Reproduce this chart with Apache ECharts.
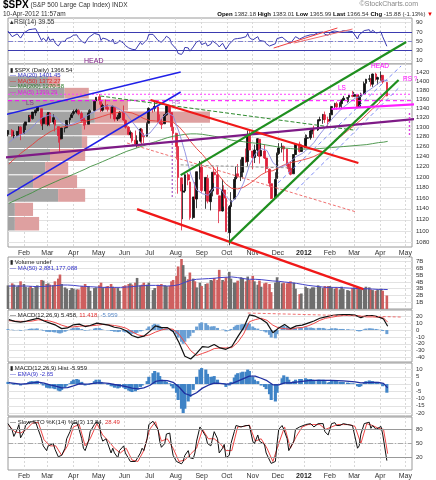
<!DOCTYPE html>
<html>
<head>
<meta charset="UTF-8">
<title>$SPX Daily</title>
<script src="https://cdn.jsdelivr.net/npm/echarts@6/dist/echarts.min.js"></script>
<style>html,body{margin:0;padding:0;background:#fff}#main{width:436px;height:480px}</style>
</head>
<body>
<div id="main"></div>
<script>
// ---- values (2-day candles, weekly indicator points) ----
var candleDates = [
 '2011-01-13','2011-01-18','2011-01-20','2011-01-24','2011-01-26','2011-01-28',
 '2011-02-01','2011-02-03','2011-02-07','2011-02-09','2011-02-11','2011-02-15','2011-02-17','2011-02-22','2011-02-24','2011-02-28',
 '2011-03-02','2011-03-04','2011-03-08','2011-03-10','2011-03-14','2011-03-16','2011-03-18','2011-03-22','2011-03-24','2011-03-28','2011-03-30',
 '2011-04-01','2011-04-05','2011-04-07','2011-04-11','2011-04-13','2011-04-15','2011-04-19','2011-04-21','2011-04-26','2011-04-28',
 '2011-05-02','2011-05-04','2011-05-06','2011-05-10','2011-05-12','2011-05-16','2011-05-18','2011-05-20','2011-05-24','2011-05-26','2011-05-31',
 '2011-06-02','2011-06-06','2011-06-08','2011-06-10','2011-06-14','2011-06-16','2011-06-20','2011-06-22','2011-06-24','2011-06-28','2011-06-30',
 '2011-07-05','2011-07-07','2011-07-11','2011-07-13','2011-07-15','2011-07-19','2011-07-21','2011-07-25','2011-07-27','2011-07-29',
 '2011-08-02','2011-08-04','2011-08-08','2011-08-10','2011-08-12','2011-08-16','2011-08-18','2011-08-22','2011-08-24','2011-08-26','2011-08-30',
 '2011-09-01','2011-09-06','2011-09-08','2011-09-12','2011-09-14','2011-09-16','2011-09-20','2011-09-22','2011-09-26','2011-09-28','2011-09-30',
 '2011-10-04','2011-10-06','2011-10-10','2011-10-12','2011-10-14','2011-10-18','2011-10-20','2011-10-24','2011-10-26','2011-10-28',
 '2011-11-01','2011-11-03','2011-11-07','2011-11-09','2011-11-11','2011-11-15','2011-11-17','2011-11-21','2011-11-23','2011-11-28','2011-11-30',
 '2011-12-02','2011-12-06','2011-12-08','2011-12-12','2011-12-14','2011-12-16','2011-12-20','2011-12-22','2011-12-27','2011-12-29',
 '2012-01-03','2012-01-05','2012-01-09','2012-01-11','2012-01-13','2012-01-18','2012-01-20','2012-01-24','2012-01-26','2012-01-30',
 '2012-02-01','2012-02-03','2012-02-07','2012-02-09','2012-02-13','2012-02-15','2012-02-17','2012-02-22','2012-02-24','2012-02-28',
 '2012-03-01','2012-03-05','2012-03-07','2012-03-09','2012-03-13','2012-03-15','2012-03-19','2012-03-21','2012-03-23','2012-03-27','2012-03-29',
 '2012-04-02','2012-04-04','2012-04-09'
];
// [open, close, low, high]
var candles = [
 [1285,1293,1281,1294],[1293,1282,1280,1296],[1282,1283,1276,1291],[1283,1291,1281,1292],[1291,1300,1289,1302],[1300,1286,1273,1302],
 [1287,1304,1287,1308],[1304,1311,1294,1311],[1311,1325,1311,1325],[1324,1322,1312,1326],[1318,1332,1316,1332],[1330,1336,1324,1337],[1334,1343,1334,1344],[1339,1307,1302,1339],[1307,1320,1294,1320],[1321,1306,1306,1329],
 [1305,1331,1302,1332],[1330,1310,1302,1331],[1311,1320,1306,1327],[1315,1304,1291,1315],[1301,1282,1268,1301],[1280,1274,1249,1282],[1276,1298,1275,1299],[1298,1298,1289,1299],[1299,1314,1298,1315],[1315,1319,1306,1320],[1320,1326,1320,1330],
 [1329,1333,1325,1337],[1332,1336,1329,1339],[1335,1328,1325,1338],[1329,1314,1311,1333],[1315,1314,1303,1321],[1315,1305,1295,1320],[1306,1330,1306,1336],[1331,1335,1328,1338],[1335,1356,1333,1358],[1356,1364,1352,1364],
 [1365,1357,1348,1371],[1355,1335,1332,1355],[1336,1346,1333,1350],[1347,1342,1338,1359],[1342,1338,1333,1349],[1337,1329,1318,1343],[1329,1344,1327,1346],[1342,1317,1312,1342],[1317,1321,1313,1326],[1320,1331,1317,1334],[1332,1315,1313,1346],
 [1314,1300,1297,1316],[1300,1285,1283,1302],[1284,1289,1277,1293],[1288,1272,1268,1289],[1273,1265,1263,1293],[1265,1272,1258,1283],[1271,1296,1268,1298],[1295,1284,1263,1298],[1283,1280,1267,1288],[1281,1307,1280,1310],[1308,1340,1308,1342],
 [1339,1339,1331,1341],[1340,1344,1333,1357],[1343,1314,1310,1343],[1314,1309,1306,1327],[1309,1305,1296,1317],[1307,1326,1307,1328],[1326,1345,1324,1347],[1344,1332,1329,1345],[1331,1301,1292,1331],[1300,1287,1274,1307],
 [1287,1260,1234,1288],[1260,1199,1168,1261],[1198,1173,1101,1199],[1171,1173,1121,1186],[1173,1204,1170,1205],[1204,1194,1184,1208],[1190,1124,1120,1191],[1124,1162,1121,1162],[1162,1159,1156,1190],[1158,1210,1141,1210],[1209,1219,1195,1231],
 [1219,1174,1170,1230],[1173,1199,1140,1199],[1197,1154,1150,1204],[1153,1173,1137,1176],[1173,1209,1163,1209],[1209,1204,1188,1220],[1204,1167,1166,1220],[1164,1136,1114,1164],[1136,1175,1135,1195],[1175,1160,1144,1184],[1159,1099,1098,1160],
 [1097,1144,1075,1147],[1144,1155,1139,1171],[1158,1195,1158,1200],[1196,1204,1190,1220],[1206,1201,1198,1225],[1200,1210,1192,1234],[1209,1238,1197,1239],[1239,1229,1228,1256],[1230,1285,1221,1293],[1284,1253,1253,1292],
 [1251,1238,1215,1251],[1238,1253,1227,1264],[1253,1276,1241,1277],[1275,1240,1226,1275],[1241,1252,1241,1267],[1251,1237,1235,1264],[1237,1216,1209,1238],[1215,1188,1181,1216],[1187,1159,1158,1187],[1160,1195,1160,1209],[1197,1245,1197,1248],
 [1246,1257,1243,1267],[1257,1261,1248,1267],[1260,1255,1231,1262],[1255,1226,1221,1255],[1225,1216,1209,1225],[1217,1205,1203,1231],[1206,1244,1206,1244],[1244,1265,1243,1266],[1265,1250,1248,1270],[1250,1258,1249,1264],
 [1258,1277,1258,1285],[1277,1278,1266,1284],[1278,1292,1274,1297],[1292,1296,1285,1297],[1294,1294,1278,1303],[1294,1315,1292,1316],[1314,1316,1312,1322],[1316,1326,1307,1328],[1326,1316,1309,1333],[1316,1312,1301,1322],
 [1313,1325,1313,1330],[1326,1344,1326,1345],[1344,1350,1338,1352],[1350,1343,1337,1354],[1344,1350,1341,1353],[1350,1358,1340,1359],[1358,1362,1356,1367],[1362,1363,1352,1364],[1364,1368,1354,1369],[1368,1366,1364,1378],
 [1366,1370,1366,1376],[1370,1343,1340,1370],[1344,1366,1344,1368],[1366,1371,1366,1374],[1371,1394,1371,1399],[1395,1404,1394,1405],[1404,1405,1398,1414],[1405,1393,1388,1407],[1393,1416,1387,1417],[1416,1405,1401,1419],[1404,1408,1392,1410],
 [1408,1413,1401,1422],[1413,1398,1394,1413],[1397,1367,1366,1398]
];
// volume, billions
var volumes = [
 3.5,3.8,3.6,3.3,3.5,4.1,
 3.7,3.3,3.2,3.4,3.1,3.3,3.5,4.3,4.2,3.7,
 3.8,3.6,3.5,4.1,4.5,5.1,3.7,3.2,3.0,2.8,3.1,
 3.0,2.9,2.9,3.4,3.3,3.7,3.4,2.7,3.1,3.2,
 3.5,3.9,3.2,3.3,3.4,3.7,3.3,3.2,3.1,2.7,3.4,
 3.5,3.7,3.8,3.6,3.9,4.6,3.5,3.6,3.9,3.6,3.9,
 2.8,3.1,3.6,3.5,3.7,3.5,3.4,3.4,4.1,4.3,
 4.9,6.3,7.4,6.5,4.8,4.4,5.4,4.5,4.1,3.2,3.9,
 3.4,3.7,3.8,4.3,4.2,4.6,4.3,5.8,4.3,4.1,4.7,
 5.5,4.5,3.9,3.9,4.2,4.7,4.6,4.1,4.8,4.3,
 4.9,4.1,3.6,4.2,3.3,3.8,3.9,3.7,2.5,3.9,4.7,
 4.0,3.8,3.9,3.8,4.0,4.1,3.9,3.0,2.2,2.3,
 3.3,3.1,3.0,3.2,3.2,3.5,3.3,3.1,3.4,3.4,
 3.4,3.2,3.0,3.2,2.9,3.3,3.0,2.8,2.7,3.1,
 3.2,3.2,3.0,2.9,3.1,3.3,3.2,2.9,2.8,2.7,2.9,
 3.0,2.7,2.0
];
var rsi = [
 72,60,61,66,70,57,
 68,71,75,72,76,77,78,52,57,50,
 60,52,55,47,40,37,50,50,56,58,61,
 63,64,58,50,50,46,58,60,67,70,
 64,52,57,55,53,49,55,45,47,52,46,
 41,36,38,33,32,36,48,43,42,54,65,
 65,66,52,50,48,56,61,56,45,41,
 33,24,22,27,37,36,29,38,38,49,51,
 43,47,40,44,51,50,43,38,46,43,33,
 44,46,55,56,56,57,61,60,67,58,
 53,56,60,52,54,50,45,40,36,45,56,
 58,59,57,50,48,46,55,60,55,57,
 61,61,64,65,64,69,69,70,65,63,
 66,71,72,69,70,72,73,72,73,71,
 72,55,64,66,73,75,75,68,74,68,69,
 70,60,39.55
];
var stoK = [
 92,78,65,80,90,62,
 75,88,95,94,96,95,96,60,45,35,
 45,48,50,38,22,18,25,40,60,75,88,
 93,94,85,60,40,35,55,75,90,95,
 92,65,55,60,50,30,40,30,20,35,45,
 30,18,12,10,12,14,30,40,35,60,90,
 97,98,80,55,42,50,70,72,45,25,
 12,8,7,12,25,35,20,18,30,55,85,
 80,65,50,45,60,75,60,30,40,48,20,
 25,50,75,88,90,85,85,88,92,88,
 55,50,68,55,58,48,30,15,8,12,50,
 80,88,80,60,35,32,55,80,85,85,
 90,90,92,93,85,92,93,92,75,68,
 80,92,94,88,88,90,92,90,90,88,
 85,40,45,70,92,96,95,82,88,80,82,
 86,70,13.84
];
var macdHist = [
 1.5,0.5,-0.5,-0.3,0.2,-1.0,
 -0.2,0.5,1.5,1.8,2.0,2.0,2.2,0.5,-1.0,-2.5,
 -2.5,-3.0,-3.0,-3.5,-4.5,-5.0,-4.0,-2.5,-1.0,0.5,2.0,
 3.0,3.5,3.0,1.5,0.0,-1.0,-0.5,0.5,2.0,3.0,
 3.0,1.5,0.5,0.0,-0.5,-1.5,-1.5,-2.5,-3.0,-2.5,-2.5,
 -3.5,-4.5,-5.0,-5.5,-5.0,-4.0,-2.0,-1.0,0.0,2.0,5.0,
 7.5,9.0,8.0,5.5,3.0,2.0,1.5,0.5,-1.5,-3.0,
 -6,-11,-17,-20,-17,-12,-9,-4,0,5,10,
 11,10,7,5,5,5.5,3,0,0.5,0.5,-2,
 -1,1.5,4.5,6.5,7.5,8,8.5,8.5,10,9,
 5,3,2,0,-1,-2,-3.5,-7,-11,-12,-6,
 0,4,6,5,3,1,2,3,3.5,3.5,
 4,3.5,3.5,3,2.5,3,3,3,2,1,
 1.5,2.5,2.5,2,1.5,1.5,1.5,1,0.8,0.5,
 0.3,-1.5,-2,-1.5,1,2,2.5,2,2,1.5,0.8,
 0.5,-1.5,-5.959
];

var weekDates = [
 '2011-01-14','2011-01-21','2011-01-28','2011-02-04','2011-02-11','2011-02-18','2011-02-25',
 '2011-03-04','2011-03-11','2011-03-18','2011-03-25','2011-04-01','2011-04-08','2011-04-15','2011-04-21','2011-04-29',
 '2011-05-06','2011-05-13','2011-05-20','2011-05-27','2011-06-03','2011-06-10','2011-06-17','2011-06-24',
 '2011-07-01','2011-07-08','2011-07-15','2011-07-22','2011-07-29','2011-08-05','2011-08-12','2011-08-19','2011-08-26',
 '2011-09-02','2011-09-09','2011-09-16','2011-09-23','2011-09-30','2011-10-07','2011-10-14','2011-10-21','2011-10-28',
 '2011-11-04','2011-11-11','2011-11-18','2011-11-25','2011-12-02','2011-12-09','2011-12-16','2011-12-23','2011-12-30',
 '2012-01-06','2012-01-13','2012-01-20','2012-01-27','2012-02-03','2012-02-10','2012-02-17','2012-02-24',
 '2012-03-02','2012-03-09','2012-03-16','2012-03-23','2012-03-30','2012-04-05','2012-04-10'
];
var ma20 = [1268,1278,1284, 1290,1300,1314,1322, 1326,1322,1308,1303, 1307,1314,1322,1328,1336, 1343,1346,1344,1337, 1328,1312,1296,1282, 1287,1302,1318,1330,1324, 1290,1250,1205,1175, 1168,1165,1180,1178,1163, 1152,1165,1188,1222, 1245,1256,1252,1228, 1218,1222,1230,1240,1246,
 1256,1268,1285,1300, 1316,1330,1342,1352, 1362,1366,1376,1385,1395, 1402,1401.45];
var ma50 = [1225,1236,1246, 1255,1264,1274,1282, 1290,1296,1300,1302, 1305,1309,1312,1315,1319, 1323,1327,1330,1332, 1332,1330,1325,1318, 1314,1313,1312,1312,1310, 1301,1287,1270,1256, 1244,1230,1216,1200,1186, 1178,1177,1180,1187, 1195,1204,1210,1212, 1218,1224,1228,1230,1233,
 1236,1240,1246,1254, 1264,1275,1285,1295, 1305,1315,1327,1339,1350, 1363,1372.27];
var ma200 = [1150,1155,1160, 1165,1170,1176,1181, 1186,1191,1196,1200, 1205,1210,1215,1220,1225, 1230,1235,1240,1245, 1250,1254,1258,1262, 1266,1270,1274,1278,1281, 1283,1285,1286,1286, 1285,1283,1281,1279,1276, 1273,1271,1270,1268, 1267,1265,1263,1261, 1259,1257,1256,1255,1255,
 1255,1255,1256,1257, 1258,1259,1260,1261, 1262,1263,1264,1266,1268, 1269,1270.58];
var volMa = [3.4,3.4,3.4, 3.4,3.35,3.3,3.35, 3.4,3.45,3.55,3.55, 3.5,3.4,3.35,3.3,3.25, 3.2,3.2,3.2,3.2, 3.25,3.3,3.4,3.45, 3.5,3.5,3.45,3.4,3.45, 3.6,3.95,4.25,4.4, 4.45,4.5,4.55,4.65,4.7, 4.75,4.65,4.5,4.4, 4.4,4.35,4.25,4.15, 4.1,4.0,3.9,3.8,3.65,
 3.5,3.4,3.3,3.2, 3.2,3.2,3.15,3.1, 3.05,3.0,3.0,2.95,2.9, 2.9,2.88];
var macdLine = [15,12.5,11.5, 13,15,17,13, 10,7,2,3, 7.5,8.5,5,6.5,10, 8.5,7,4,2.5, -1,-8,-11,-9, -2,6,3.5,3.5,-2, -18,-38,-42,-34, -24,-25,-21,-26,-28, -24,-10,3,22, 20,16,10,-4, 3,8,2,6,7,
 10,13,17,19, 21,22,22.5,22.3, 21.5,18,21,21,19, 16,5.458];
var macdSignal = [13.5,13,12.5, 12.5,13,14.8,14, 13,10.5,7,4.5, 4.5,5.5,6,6,7, 8,7.5,6.5,5, 2.5,-2.5,-7,-9, -7,-3,0,2,1, -6,-18,-30,-37, -34,-31,-27,-26,-26, -25.5,-18,-6,12, 15,17,14,7, 3,2,1,3,3.5,
 6,9.5,14,17, 18.5,20,21,21.5, 21.2,20,19,19,18.5, 17.5,11.418];
var histEma = [1,0.5,0, 0.2,0.8,1.3,0.6, -0.5,-1.5,-2.7,-2.5, -1.2,0.2,0,0.1,0.8, 0.8,0.5,-0.3,-1, -1.8,-2.8,-3.3,-2.6, -1,1.8,2.6,2.4,1.2, -2,-6.5,-8,-6, -2.8,-0.8,0.6,0.4,0, 0.3,2,3.8,5.5, 5.4,4,2.3,-0.5, -0.5,0.8,0.9,1.4,1.9,
 2.3,2.5,2.6,2.5, 2.5,2.4,2.2,1.9, 1.5,0.8,1.0,1.2,1.1, 0.5,-2.65];
var stoD = [88,75,72, 80,93,95,58, 45,45,25,45, 85,90,45,60,92, 68,55,40,30, 40,15,12,35, 80,96,55,60,40, 12,15,28,40, 80,60,60,50,35, 35,85,86,89, 55,60,40,12, 50,85,40,65,85,
 90,90,90,80, 85,90,90,90, 86,50,92,88,82, 80,28.49];

// volume-by-price bins: [low, high] and volume in each (down / up part)
var vbpBins = [[1100,1126],[1126,1152],[1152,1178],[1178,1204],[1204,1230],[1230,1256],[1256,1282],[1282,1308],[1308,1334],[1334,1360],[1360,1386],[1386,1412]];
var vbpDown = [1.7,1.7,12.4,6.2,9.2,10.4,18.3,18.3,21.5,21.0,14.0,9.9];
var vbpUp   = [6.0,4.5,6.7,10.9,5.7,8.7,1.3,11.4,28.5,8.7,6.0,3.0];

// hand-drawn annotation lines, [date, value] end points
var blueUpper   = [['2011-01-03',1323.5],['2011-08-07',1420.7]];
var blueLower   = [['2011-01-03',1156.1],['2011-08-07',1375.7]];
var purpleLine  = [['2011-01-03',1237.0],['2012-06-08',1321.4]];
var neckline    = [['2012-02-03',1338.5],['2012-05-18',1349.3]];
var greenUpper  = [['2011-08-07',1203.5],['2012-05-02',1491.0]];
var greenLower  = [['2011-10-04',1080.5],['2012-04-23',1402.5]];
var redUpper    = [['2011-07-02',1358.0],['2012-03-06',1227.1]];
var redLower    = [['2011-06-16',1139.4],['2012-03-12',1001.7]];
var redDashed   = [['2011-06-04',1267.2],['2012-03-04',1133.9]];
var greenDashed = [['2011-05-03',1366.8],['2012-02-29',1294.0]];
var blueDash1   = [['2011-12-01',1188.1],['2012-04-26',1434.5]];
var blueDash2   = [['2011-12-23',1174.9],['2012-04-23',1384.5]];
var grayDashed  = [['2011-08-07',1223.4],['2011-12-16',1217.5]];
var level2011High = [['2011-01-13',1370.6],['2012-05-09',1370.6]];
var levelJulHigh  = [['2011-01-13',1356.5],['2012-05-09',1356.5]];
var vertJul     = [['2011-07-28',1267.2],['2011-07-28',1158.6]];
var vertTarget  = [['2012-05-06',1329.9],['2012-05-06',1279.5]];
var rsiTrend1   = [['2011-11-26',35.7],['2012-02-10',78.6]];
var rsiTrend2   = [['2011-12-20',46.4],['2012-02-28',76.4]];
var macdTrend   = [['2011-10-26',24.6],['2012-04-26',18.8]];

// axis ticks
var dateRange = ['2011-01-13','2012-05-09'];
var monthTicks = ['2011-02-01','2011-03-01','2011-04-01','2011-05-01','2011-06-01','2011-07-01','2011-08-01','2011-09-01','2011-10-01','2011-11-01','2011-12-01','2012-01-01','2012-02-01','2012-03-01','2012-04-01','2012-05-01'];
var rsiTicks = [10,30,50,70,90];
var priceTicks = [1080,1100,1120,1140,1160,1180,1200,1220,1240,1260,1280,1300,1320,1340,1360,1380,1400,1420];
var volTicks = [1,2,3,4,5,6,7];
var macdTicks = [-40,-30,-20,-10,0,10,20];
var histTicks = [-20,-15,-10,-5,0,5,10];
var stoTicks = [20,50,80];
var rsiLevels = [30,70], stoLevels = [20,80];

// ---- chart ----
var FONT = 'Liberation Sans, Arial, sans-serif';
var MON = ['Jan','Feb','Mar','Apr','May','Jun','Jul','Aug','Sep','Oct','Nov','Dec'];
function t(s) { return new Date(s + 'T00:00:00').getTime(); }
var chart = echarts.init(document.getElementById('main'));

var panels = [
  {top: 18, height: 46},
  {top: 64, height: 183},
  {top: 257, height: 52},
  {top: 310, height: 52},
  {top: 363, height: 53},
  {top: 417, height: 53}
];
var grid = panels.map(function (p) {
  return {left: 8, right: 24, top: p.top, height: p.height, show: true, borderColor: '#9a9a9a', borderWidth: 1, backgroundColor: '#fff'};
});

var monthTs = monthTicks.map(t);
var xAxis = panels.map(function (p, i) {
  return {
    type: 'value', gridIndex: i, min: t(dateRange[0]), max: t(dateRange[1]),
    axisLine: {show: false},
    axisTick: {show: false, customValues: monthTs},
    axisLabel: {
      show: i === 1 || i === 5, customValues: monthTs, fontSize: 7, color: '#333', margin: 3, fontFamily: FONT,
      hideOverlap: false, showMinLabel: true, showMaxLabel: true,
      formatter: function (v) {
        var d = new Date(v);
        return d.getMonth() === 0 ? '{y|' + d.getFullYear() + '}' : MON[d.getMonth()];
      },
      rich: {y: {fontWeight: 'bold', fontSize: 7, color: '#222', fontFamily: FONT}}
    },
    splitLine: {show: true, customValues: monthTs, lineStyle: {color: '#d8d8d8', width: 1, type: [2, 2]}}
  };
});
xAxis.push({type: 'value', gridIndex: 1, min: 0, max: 100, show: false});

function yAx(i, type, min, max, ticks, fmt) {
  return {
    type: type, gridIndex: i, position: 'right', min: min, max: max,
    axisLine: {show: false}, axisTick: {show: false, customValues: ticks},
    axisLabel: {customValues: ticks, fontSize: 6, lineHeight: 6, color: '#333', margin: 4, fontFamily: FONT, formatter: fmt,
      hideOverlap: false, showMinLabel: true, showMaxLabel: true},
    splitLine: {show: true, customValues: ticks, lineStyle: {color: '#e2e2e2', width: 1}}
  };
}
var yAxis = [
  yAx(0, 'value', 1.5, 100, rsiTicks),
  yAx(1, 'log', 1072, 1439, priceTicks, function (v) { return String(Math.round(v)); }),
  yAx(2, 'value', 0, 7.7, volTicks, function (v) { return v + 'B'; }),
  yAx(3, 'value', -46.4, 29, macdTicks),
  yAx(4, 'value', -22, 14.5, histTicks),
  yAx(5, 'value', -6, 106, stoTicks)
];

function pairs(dates, vals) { return vals.map(function (v, i) { return [t(dates[i]), v]; }); }
function pts(list) { return list.map(function (p) { return [t(p[0]), p[1]]; }); }
function seg(list, color, width, type, xi, yi, z) {
  return {type: 'line', xAxisIndex: xi, yAxisIndex: yi, data: pts(list), symbol: 'none', clip: false, silent: true, z: z || 6,
    lineStyle: {color: color, width: width, type: type || 'solid'}};
}
function ind(dates, vals, color, width, xi, z) {
  return {type: 'line', xAxisIndex: xi, yAxisIndex: xi, data: pairs(dates, vals), symbol: 'none', silent: true, z: z || 3,
    lineStyle: {color: color, width: width}};
}

var vbpData = vbpBins.map(function (b, i) { return [vbpDown[i], vbpUp[i], b[0], b[1]]; });
var candleData = candles.map(function (c, i) { return [t(candleDates[i]), c[0], c[1], c[2], c[3]]; });
var volData = volumes.map(function (v, i) {
  var down = candles[i][1] < candles[i][0];
  return {value: [t(candleDates[i]), v], itemStyle: {color: down ? '#cf5f5f' : '#6e6e6e'}};
});

var series = [
  // RSI
  {type: 'line', xAxisIndex: 0, yAxisIndex: 0, data: pairs(candleDates, rsi), symbol: 'none', silent: true, z: 3,
   lineStyle: {color: '#3b3bb0', width: 1},
   markLine: {silent: true, symbol: 'none', label: {show: false},
     data: [{yAxis: rsiLevels[0], lineStyle: {color: '#3b3bb0', width: 1, type: 'solid'}},
            {yAxis: rsiLevels[1], lineStyle: {color: '#3b3bb0', width: 1, type: 'solid'}},
            {yAxis: 50, lineStyle: {color: '#8080d0', width: 1, type: [5, 2, 1, 2]}}]}},
  seg(rsiTrend1, '#f04040', 1, 'solid', 0, 0),
  seg(rsiTrend2, '#f07070', 1, 'solid', 0, 0),

  // price panel: volume by price
  {type: 'custom', xAxisIndex: 6, yAxisIndex: 1, data: vbpData, silent: true, z: 1, encode: {x: [0, 1], y: [2, 3]},
   renderItem: function (params, api) {
     var down = api.value(0), up = api.value(1), lo = api.value(2), hi = api.value(3);
     var a = api.coord([0, hi]), b = api.coord([down, lo]), c = api.coord([down + up, lo]);
     var y = a[1] + 0.5, h = b[1] - a[1] - 1;
     return {type: 'group', children: [
       {type: 'rect', shape: {x: a[0], y: y, width: b[0] - a[0], height: h}, style: {fill: '#a3a3a3'}},
       {type: 'rect', shape: {x: b[0], y: y, width: c[0] - b[0], height: h}, style: {fill: '#dea0a0'}}
     ]};
   }},
  {type: 'candlestick', xAxisIndex: 1, yAxisIndex: 1, data: candleData, barWidth: 2.2, silent: true, z: 2,
   itemStyle: {color: '#111', color0: '#e0203a', borderColor: '#111', borderColor0: '#e0203a', borderWidth: 0.8}},
  ind(weekDates, ma200, '#3f8f3f', 0.9, 1, 3),
  ind(weekDates, ma50, '#e8403a', 0.9, 1, 3),
  ind(weekDates, ma20, '#8a8ae0', 0.9, 1, 3),
  seg(level2011High, '#ff40ff', 1, [2, 2], 1, 1, 4),
  seg(levelJulHigh, '#ff00ff', 1, [4, 3], 1, 1, 4),
  seg(blueUpper, '#2020e8', 1.6, 'solid', 1, 1),
  seg(blueLower, '#2020e8', 1.6, 'solid', 1, 1),
  seg(blueDash1, '#6f7ff5', 0.9, [4, 3], 1, 1),
  seg(blueDash2, '#6f7ff5', 0.9, [4, 3], 1, 1),
  seg(greenDashed, '#2e8b2e', 1, [4, 2], 1, 1),
  seg(grayDashed, '#888888', 0.9, [3, 2], 1, 1),
  seg(redDashed, '#f07070', 1, [3, 2], 1, 1),
  seg(purpleLine, '#7e1a86', 2.4, 'solid', 1, 1),
  seg(redUpper, '#f01818', 2.2, 'solid', 1, 1),
  seg(redLower, '#f01818', 2.2, 'solid', 1, 1),
  seg(greenUpper, '#1f8f1f', 2.2, 'solid', 1, 1),
  seg(greenLower, '#1f8f1f', 2.2, 'solid', 1, 1),
  seg(neckline, '#ff20ff', 2.2, 'solid', 1, 1),
  seg(vertJul, '#b070d0', 1.4, [2, 2], 1, 1),
  seg(vertTarget, '#e040e0', 1.4, [2, 2], 1, 1),

  // volume
  {type: 'bar', xAxisIndex: 2, yAxisIndex: 2, data: volData, barWidth: 2.6, silent: true, z: 2},
  ind(weekDates, volMa, '#4444c8', 1, 2, 3),

  // MACD
  {type: 'bar', xAxisIndex: 3, yAxisIndex: 3, data: pairs(candleDates, macdHist), barWidth: 3, silent: true, z: 2,
   itemStyle: {color: '#6a9fd4'}},
  ind(weekDates, macdSignal, '#f04848', 1, 3, 3),
  ind(weekDates, macdLine, '#111', 1.2, 3, 4),
  seg(macdTrend, '#f07070', 1, [3, 2], 3, 3),

  // MACD histogram
  {type: 'bar', xAxisIndex: 4, yAxisIndex: 4, data: pairs(candleDates, macdHist), barWidth: 3.1, silent: true, z: 2,
   itemStyle: {color: '#3f83c6'}},
  ind(weekDates, histEma, '#1f2fa0', 1.3, 4, 3),

  // slow stochastics
  {type: 'line', xAxisIndex: 5, yAxisIndex: 5, data: pairs(weekDates, stoD), symbol: 'none', silent: true, z: 3,
   lineStyle: {color: '#f04848', width: 1},
   markLine: {silent: true, symbol: 'none', label: {show: false},
     data: [{yAxis: stoLevels[0], lineStyle: {color: '#999', width: 1, type: 'solid'}},
            {yAxis: stoLevels[1], lineStyle: {color: '#999', width: 1, type: 'solid'}},
            {yAxis: 50, lineStyle: {color: '#aaa', width: 1, type: [5, 2, 1, 2]}}]}},
  ind(candleDates, stoK, '#111', 1, 5, 4)
];

function txt(x, y, text, color, size, extra) {
  var s = {text: text, fill: color || '#222', fontSize: size || 6.5, fontFamily: FONT};
  if (extra) for (var k in extra) s[k] = extra[k];
  return {type: 'text', x: x, y: y, z: 100, style: s, silent: true};
}
var graphic = [
  txt(3, 0, '{a|$SPX} (S&P 500 Large Cap Index) INDX', '#333', 6.5, {rich: {a: {fontSize: 10, fontWeight: 'bold', fill: '#000', fontFamily: FONT}}}),
  txt(3, 11, '10-Apr-2012 11:57am', '#333', 6.5),
  txt(418, 1, '\u00A9StockCharts.com', '#888', 7, {align: 'right'}),
  txt(433, 11, '{b|Open} 1382.18 {b|High} 1383.01 {b|Low} 1365.99 {b|Last} 1366.54 {b|Chg} -15.88 (-1.13%) {r|\u25BC}', '#333', 6,
    {align: 'right', rich: {b: {fontWeight: 'bold', fill: '#000', fontSize: 6, fontFamily: FONT}, r: {fill: '#e00', fontSize: 6}}}),
  txt(10, 19, '\u25B4RSI(14) 39.55', '#333', 6.5),
  txt(84, 58, 'HEAD', '#7e1a86', 7),
  txt(10, 67, '\u25AE $SPX (Daily) 1366.54', '#222', 6),
  txt(10, 72.5, '\u2014 MA(20) 1401.45', '#3434c8', 6),
  txt(10, 78, '\u2014 MA(50) 1372.27', '#e02a2a', 6),
  txt(10, 83.5, '\u2014 MA(200) 1270.58', '#2e7d2e', 6),
  txt(10, 89, '\u2014 MA(5) 1399.29', '#e020e0', 6),
  txt(26, 100, 'LS', '#7e3a86', 6.5),
  txt(172, 99, 'RS', '#b070d0', 6),
  txt(338, 85, 'LS', '#ff00ff', 6.5),
  txt(371, 63, 'HEAD', '#ff00ff', 6.5),
  txt(403, 76, 'RS ?', '#ff00ff', 6.5),
  txt(10, 259, '\u25AE Volume undef', '#222', 6),
  txt(10, 265, '\u2014 MA(50) 2,881,177,088', '#3434c8', 6),
  txt(10, 312, '\u2014 MACD(12,26,9) 5.458, {r|11.418}, {c|-5.959}', '#222', 6,
    {rich: {r: {fill: '#e03030', fontSize: 6, fontFamily: FONT}, c: {fill: '#5a8ac8', fontSize: 6, fontFamily: FONT}}}),
  txt(10, 365, '\u25AE MACD(12,26,9) Hist -5.959', '#222', 6),
  txt(10, 371, '\u2014 EMA(9) -2.65', '#3434c8', 6),
  txt(10, 419, '\u2014 Slow STO %K(14) %D(3) 13.84, {r|28.49}', '#222', 6,
    {rich: {r: {fill: '#e03030', fontSize: 6, fontFamily: FONT}}})
];

chart.setOption({
  animation: false,
  backgroundColor: '#fff',
  textStyle: {fontFamily: FONT},
  grid: grid,
  xAxis: xAxis,
  yAxis: yAxis,
  series: series,
  graphic: graphic
});
</script>
</body>
</html>
